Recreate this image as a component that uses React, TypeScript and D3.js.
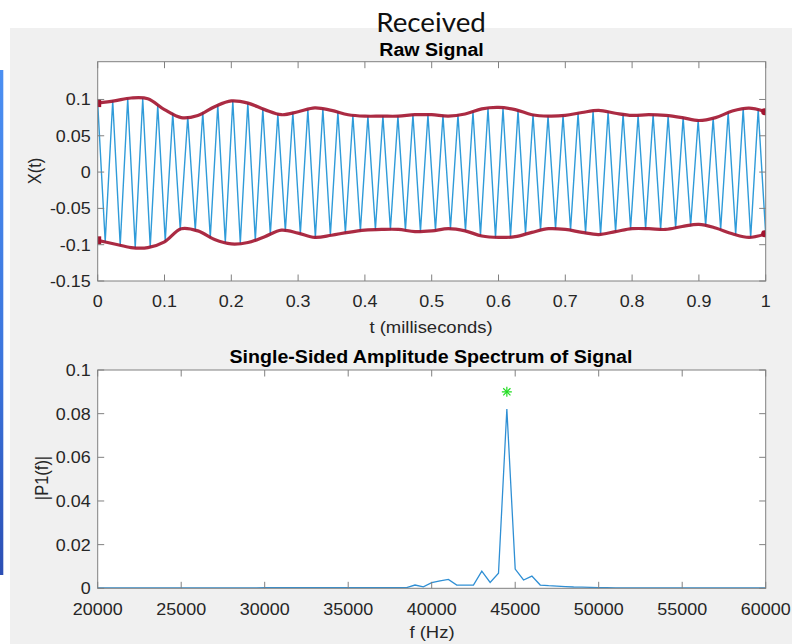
import React from 'react';
import * as d3 from 'd3';

// ---------- Data ----------
const pageTitle = 'Received';
const rawTitle = 'Raw Signal';
const rawXLabel = 't (milliseconds)';
const rawYLabel = 'X(t)';
const specTitle = 'Single-Sided Amplitude Spectrum of Signal';
const specXLabel = 'f (Hz)';
const specYLabel = '|P1(f)|';

const rawXTicks = [0, 0.1, 0.2, 0.3, 0.4, 0.5, 0.6, 0.7, 0.8, 0.9, 1];
const rawXTickLabels = ['0', '0.1', '0.2', '0.3', '0.4', '0.5', '0.6', '0.7', '0.8', '0.9', '1'];
const rawYTicks = [-0.15, -0.1, -0.05, 0, 0.05, 0.1];
const rawYTickLabels = ['-0.15', '-0.1', '-0.05', '0', '0.05', '0.1'];
const specXTicks = [20000, 25000, 30000, 35000, 40000, 45000, 50000, 55000, 60000];
const specXTickLabels = ['20000', '25000', '30000', '35000', '40000', '45000', '50000', '55000', '60000'];
const specYTicks = [0, 0.02, 0.04, 0.06, 0.08, 0.1];
const specYTickLabels = ['0', '0.02', '0.04', '0.06', '0.08', '0.1'];

// envelope (ms, amplitude)
const envTimes = [0, 0.025, 0.05, 0.075, 0.1, 0.125, 0.15, 0.175, 0.2, 0.225, 0.25, 0.275, 0.3, 0.325, 0.35, 0.375, 0.4,
  0.425, 0.45, 0.475, 0.5, 0.525, 0.55, 0.575, 0.6, 0.625, 0.65, 0.675, 0.7, 0.725, 0.75, 0.775, 0.8, 0.825, 0.85,
  0.875, 0.9, 0.925, 0.95, 0.975, 1];
const envUpper = [0.095, 0.098, 0.102, 0.101, 0.086, 0.075, 0.078, 0.09, 0.098, 0.095, 0.086, 0.079, 0.083, 0.0885,
  0.085, 0.079, 0.077, 0.077, 0.077, 0.079, 0.079, 0.077, 0.08, 0.087, 0.089, 0.086, 0.079, 0.077, 0.078, 0.082,
  0.085, 0.081, 0.078, 0.079, 0.078, 0.075, 0.071, 0.075, 0.084, 0.088, 0.083];
const envLower = [-0.094, -0.099, -0.104, -0.104, -0.096, -0.078, -0.081, -0.093, -0.099, -0.097, -0.089, -0.08,
  -0.084, -0.09, -0.087, -0.083, -0.08, -0.079, -0.079, -0.082, -0.081, -0.078, -0.081, -0.088, -0.09, -0.089,
  -0.083, -0.078, -0.079, -0.083, -0.086, -0.082, -0.078, -0.078, -0.079, -0.075, -0.072, -0.077, -0.085, -0.09,
  -0.085];

// carrier extrema (alternating peaks/troughs), evenly spaced from 0 to 1 ms
const carrierStartMs = 0;
const carrierEndMs = 1;
const carrierExtrema = [
  0.095, -0.096, 0.098, -0.101, 0.101, -0.104, 0.101, -0.103, 0.092, -0.095,
  0.081, -0.079, 0.076, -0.08, 0.082, -0.09, 0.092, -0.097, 0.098, -0.098,
  0.095, -0.094, 0.087, -0.086, 0.08, -0.081, 0.082, -0.085, 0.086, -0.09,
  0.087, -0.087, 0.083, -0.084, 0.078, -0.081, 0.077, -0.079, 0.077, -0.079,
  0.077, -0.08, 0.079, -0.082, 0.079, -0.08, 0.078, -0.078, 0.079, -0.081,
  0.083, -0.087, 0.088, -0.09, 0.088, -0.089, 0.085, -0.085, 0.079, -0.08,
  0.077, -0.078, 0.078, -0.08, 0.081, -0.084, 0.084, -0.086, 0.083, -0.082,
  0.08, -0.078, 0.078, -0.078, 0.079, -0.079, 0.077, -0.077, 0.075, -0.074,
  0.071, -0.074, 0.074, -0.079, 0.082, -0.086, 0.087, -0.09, 0.086, -0.086,
];

// spectrum: 500 Hz bins from 20 kHz to 60 kHz
const specFreqs = d3.range(20000, 60001, 500);
const specAmps = [
  0.0002, 0.0002, 0.0002, 0.0002, 0.0002, 0.0002, 0.0002, 0.0002, 0.0002, 0.0002,
  0.0002, 0.0002, 0.0002, 0.0002, 0.0002, 0.0002, 0.0002, 0.0002, 0.0002, 0.0002,
  0.0003, 0.0003, 0.0003, 0.0003, 0.0003, 0.0003, 0.0003, 0.0003, 0.0003, 0.0003,
  0.0003, 0.0003, 0.0003, 0.0003, 0.0003, 0.0003, 0.0003, 0.0003, 0.0015, 0.0007,
  0.0026, 0.0034, 0.0041, 0.0015, 0.0015, 0.0015, 0.0079, 0.0027, 0.0069, 0.0821,
  0.0088, 0.0038, 0.0056, 0.0015, 0.0012, 0.001, 0.0008, 0.0006, 0.0005, 0.0004,
  0.0003, 0.0003, 0.0002, 0.0002, 0.0002, 0.0002, 0.0002, 0.0002, 0.0002, 0.0002,
  0.0002, 0.0002, 0.0002, 0.0002, 0.0002, 0.0002, 0.0002, 0.0002, 0.0002, 0.0002,
  0.0002,
];
const peakMarkerF = [44500];
const peakMarkerA = [0.09];

// ---------- Layout ----------
const W = 792;
const H = 644;
const FONT = '"Liberation Sans", Arial, Helvetica, sans-serif';
const SX = 1.12;
const AX_COLOR = '#808080';
const TXT = '#262626';
const L = 97.7;
const R = 765.7;
const TOP1 = 61.7;
const BOT1 = 281;
const TOP2 = 370;
const BOT2 = 588.3;
const TICK = 6.5;

type TProps = {
  x: number; y: number; children: React.ReactNode; anchor?: string; size?: number;
  weight?: string | number; rotate?: boolean; fill?: string; family?: string; sx?: number;
};
const Txt = ({ x, y, children, anchor = 'middle', size = 16, weight = 'normal', rotate = false, fill = TXT, family = FONT, sx = SX }: TProps) => (
  <text
    transform={rotate ? `translate(${x},${y}) rotate(-90) scale(1,${sx})` : `translate(${x},${y}) scale(${sx},1)`}
    textAnchor={anchor as any}
    fontSize={size}
    fontWeight={weight as any}
    fill={fill}
    fontFamily={family}
  >
    {children}
  </text>
);

export default function App() {
  const x1 = d3.scaleLinear().domain([0, 1]).range([L, R]);
  const y1 = d3.scaleLinear().domain([-0.15, 0.152]).range([BOT1, TOP1]);
  const x2 = d3.scaleLinear().domain([20000, 60000]).range([L, R]);
  const y2 = d3.scaleLinear().domain([0, 0.1]).range([BOT2, TOP2]);

  const tStep = (carrierEndMs - carrierStartMs) / (carrierExtrema.length - 1);
  const carrierPts: [number, number][] = carrierExtrema.map((v, i) => [x1(carrierStartMs + i * tStep), y1(v)]);
  const carrierPath = d3.line()(carrierPts) || '';

  const envLine = d3.line<number>().x((_, i) => x1(envTimes[i])).curve(d3.curveCatmullRom);
  const upPath = envLine.y((v) => y1(v))(envUpper) || '';
  const lowPath = envLine.y((v) => y1(v))(envLower) || '';

  const specPath = d3.line<number>().x((_, i) => x2(specFreqs[i])).y((v) => y2(v))(specAmps) || '';

  const RED = '#a2142f';

  const box = (top: number, bot: number) => (
    <rect x={L} y={top} width={R - L} height={bot - top} fill="none" stroke={AX_COLOR} strokeWidth={1} />
  );

  return (
    <svg width={W} height={H} style={{ position: 'fixed', left: 0, top: 0 }} xmlns="http://www.w3.org/2000/svg">
      <defs>
        <linearGradient id="blueStrip" x1="0" y1="0" x2="0" y2="1">
          <stop offset="0" stopColor="#4b8ff2" />
          <stop offset="0.6" stopColor="#3b74dc" />
          <stop offset="1" stopColor="#2c4fb4" />
        </linearGradient>
        <clipPath id="clip1"><rect x={L} y={TOP1} width={R - L} height={BOT1 - TOP1} /></clipPath>
        <clipPath id="clip2"><rect x={L} y={TOP2 - 30} width={R - L} height={BOT2 - TOP2 + 30} /></clipPath>
      </defs>
      <rect x={0} y={0} width={W} height={H} fill="#ffffff" />
      <rect x={0} y={70} width={3.3} height={505} fill="url(#blueStrip)" />
      <rect x={10} y={28} width={W - 10} height={H - 28} fill="#f0f0f0" />

      <Txt x={431} y={31.5} size={27} fill="#111" family='Lato, "Open Sans", sans-serif' sx={1.03}>{pageTitle}</Txt>

      {/* ---- Raw signal axes ---- */}
      <rect x={L} y={TOP1} width={R - L} height={BOT1 - TOP1} fill="#ffffff" />
      <g clipPath="url(#clip1)">
        <path d={carrierPath} fill="none" stroke="#2f9bd9" strokeWidth={1.4} strokeLinejoin="round" />
        <path d={upPath} fill="none" stroke={RED} strokeWidth={3.2} strokeOpacity={0.9} />
        <path d={lowPath} fill="none" stroke={RED} strokeWidth={3.2} strokeOpacity={0.9} />
        {[envUpper, envLower].map((arr, k) => (
          <g key={k}>
            <rect x={x1(envTimes[0]) - 3.5} y={y1(arr[0]) - 4} width={7} height={8} fill={RED} />
            <circle cx={x1(envTimes[envTimes.length - 1]) - 1} cy={y1(arr[arr.length - 1])} r={3.5} fill={RED} />
          </g>
        ))}
      </g>
      {box(TOP1, BOT1)}
      {rawXTicks.map((t, i) => (
        <g key={'rx' + i}>
          <line x1={x1(t)} x2={x1(t)} y1={BOT1} y2={BOT1 - TICK} stroke={AX_COLOR} />
          <line x1={x1(t)} x2={x1(t)} y1={TOP1} y2={TOP1 + TICK} stroke={AX_COLOR} />
          <Txt x={x1(t)} y={BOT1 + 26}>{rawXTickLabels[i]}</Txt>
        </g>
      ))}
      {rawYTicks.map((v, i) => (
        <g key={'ry' + i}>
          <line x1={L} x2={L + TICK} y1={y1(v)} y2={y1(v)} stroke={AX_COLOR} />
          <line x1={R} x2={R - TICK} y1={y1(v)} y2={y1(v)} stroke={AX_COLOR} />
          <Txt x={L - 7} y={y1(v) + 6} anchor="end">{rawYTickLabels[i]}</Txt>
        </g>
      ))}
      <Txt x={431.5} y={56} size={17.5} weight="bold" fill="#000">{rawTitle}</Txt>
      <Txt x={431} y={333} size={16.5}>{rawXLabel}</Txt>
      <Txt x={41} y={171} size={16.5} rotate>{rawYLabel}</Txt>

      {/* ---- Spectrum axes ---- */}
      <rect x={L} y={TOP2} width={R - L} height={BOT2 - TOP2} fill="#ffffff" />
      <g clipPath="url(#clip2)">
        <path d={specPath} fill="none" stroke="#2f8fd4" strokeWidth={1.3} />
        {peakMarkerF.map((f, i) => {
          const cx = x2(f);
          const cy = y2(peakMarkerA[i]);
          const r = 5;
          const d = r * 0.72;
          return (
            <g key={'pk' + i} stroke="#22dd22" strokeWidth={1.2}>
              <line x1={cx - r} x2={cx + r} y1={cy} y2={cy} />
              <line x1={cx} x2={cx} y1={cy - r} y2={cy + r} />
              <line x1={cx - d} x2={cx + d} y1={cy - d} y2={cy + d} />
              <line x1={cx - d} x2={cx + d} y1={cy + d} y2={cy - d} />
            </g>
          );
        })}
      </g>
      {box(TOP2, BOT2)}
      {specXTicks.map((f, i) => (
        <g key={'sx' + i}>
          <line x1={x2(f)} x2={x2(f)} y1={BOT2} y2={BOT2 - TICK} stroke={AX_COLOR} />
          <line x1={x2(f)} x2={x2(f)} y1={TOP2} y2={TOP2 + TICK} stroke={AX_COLOR} />
          <Txt x={x2(f)} y={BOT2 + 26.5}>{specXTickLabels[i]}</Txt>
        </g>
      ))}
      {specYTicks.map((v, i) => (
        <g key={'sy' + i}>
          <line x1={L} x2={L + TICK} y1={y2(v)} y2={y2(v)} stroke={AX_COLOR} />
          <line x1={R} x2={R - TICK} y1={y2(v)} y2={y2(v)} stroke={AX_COLOR} />
          <Txt x={L - 7} y={y2(v) + 6} anchor="end">{specYTickLabels[i]}</Txt>
        </g>
      ))}
      <Txt x={431} y={363} size={17.5} weight="bold" fill="#000">{specTitle}</Txt>
      <Txt x={432} y={638} size={16.5}>{specXLabel}</Txt>
      <Txt x={48} y={478} size={16.5} rotate>{specYLabel}</Txt>
    </svg>
  );
}
